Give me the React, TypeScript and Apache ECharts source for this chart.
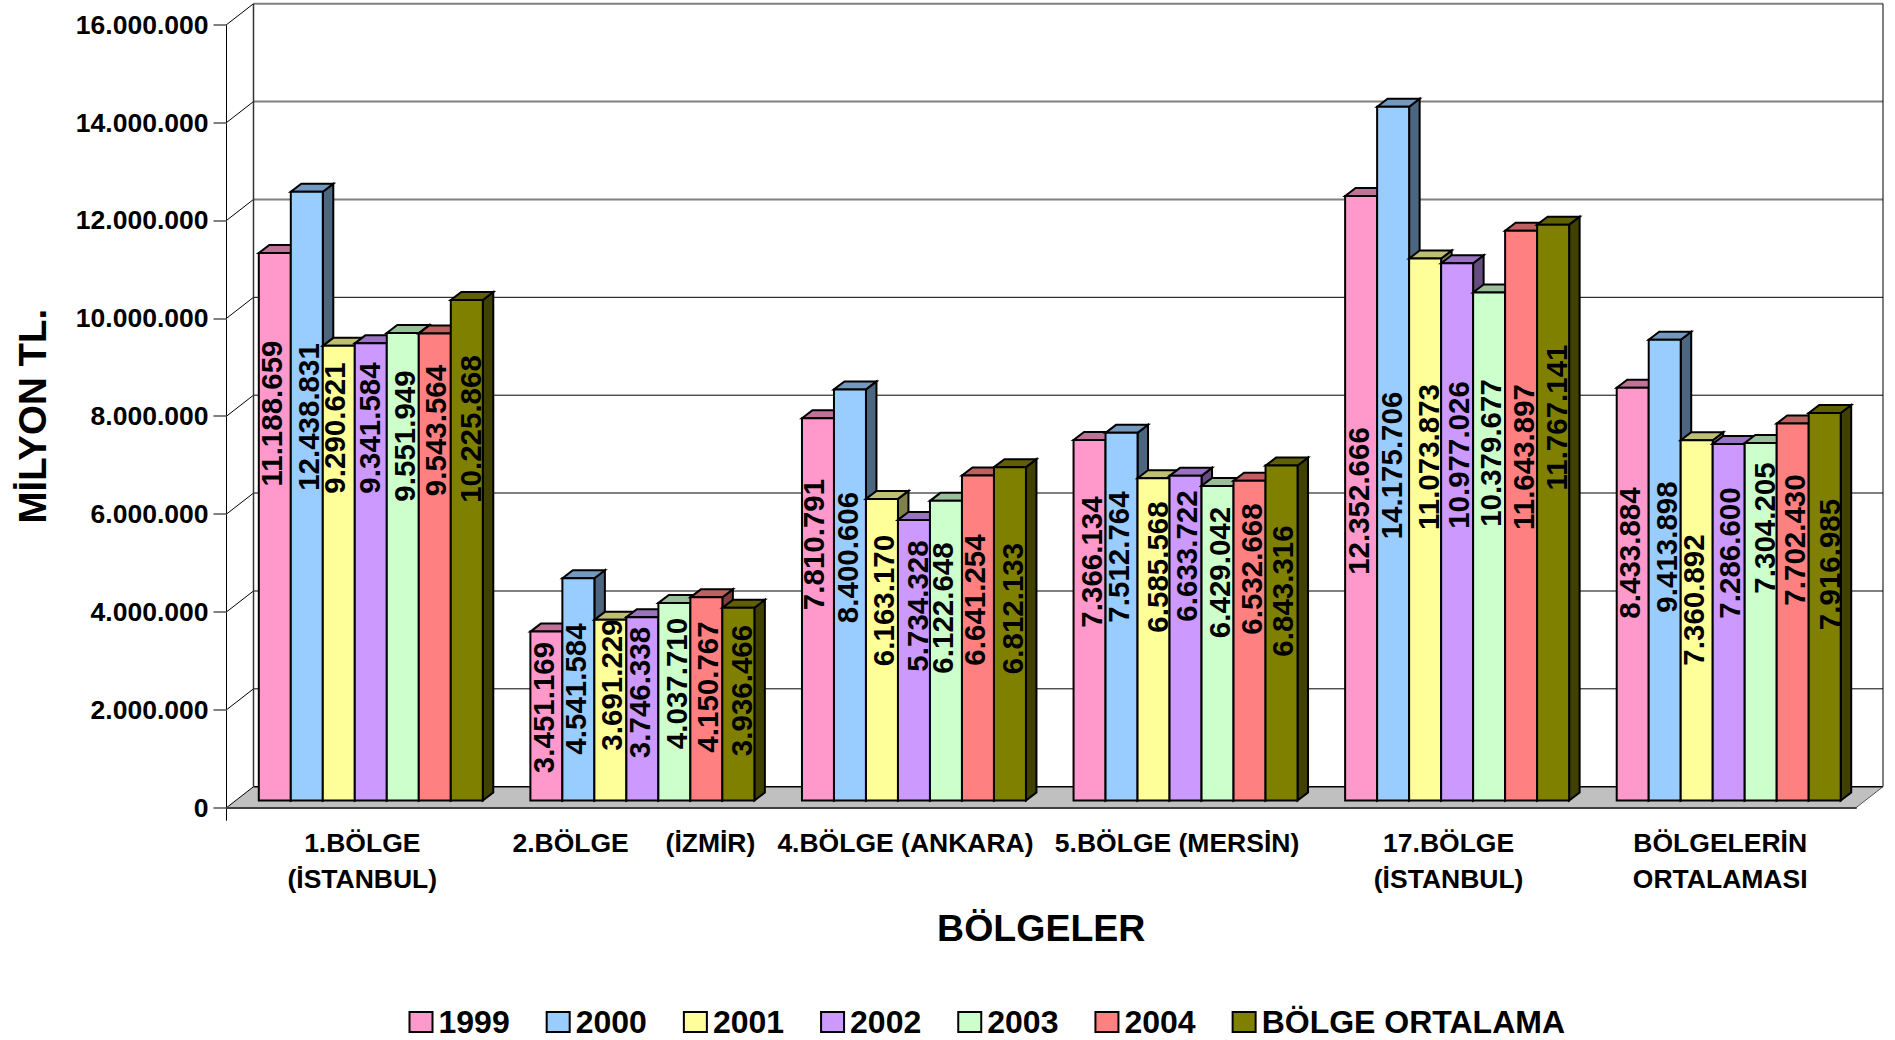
import React, { useEffect, useRef } from "react";
import * as echarts from "echarts";

const categories = [
  "1.BÖLGE\n(İSTANBUL)",
  "2.BÖLGE     (İZMİR)",
  "4.BÖLGE (ANKARA)",
  "5.BÖLGE (MERSİN)",
  "17.BÖLGE\n(İSTANBUL)",
  "BÖLGELERİN\nORTALAMASI",
];
const seriesNames = ["1999", "2000", "2001", "2002", "2003", "2004", "BÖLGE ORTALAMA"];

const v1999 = [11188659, 3451169, 7810791, 7366134, 12352666, 8433884];
const v2000 = [12438831, 4541584, 8400606, 7512764, 14175706, 9413898];
const v2001 = [9290621, 3691229, 6163170, 6585568, 11073873, 7360892];
const v2002 = [9341584, 3746338, 5734328, 6633722, 10977026, 7286600];
const v2003 = [9551949, 4037710, 6122648, 6429042, 10379677, 7304205];
const v2004 = [9543564, 4150767, 6641254, 6532668, 11643897, 7702430];
const vOrtalama = [10225868, 3936466, 6812133, 6843316, 11767141, 7916985];
const allValues = [v1999, v2000, v2001, v2002, v2003, v2004, vOrtalama];

const axisTicks = [0, 2000000, 4000000, 6000000, 8000000, 10000000, 12000000, 14000000, 16000000];

// Hand-placed data label centres (the reference's labels were moved by hand)
const labelX = [
  [271, 543.5, 813.5, 1091, 1358.5, 1629],
  [308.5, 575, 847, 1118, 1391, 1666],
  [334, 611, 883.5, 1157, 1428.5, 1693.5],
  [369, 639, 917, 1186.5, 1458, 1729.5],
  [404, 676, 942.5, 1219, 1490, 1764],
  [435, 707.5, 974, 1251, 1523.5, 1794],
  [470, 741.5, 1012.5, 1282.5, 1556, 1829],
];
const labelY = [
  [413.5, 707.5, 544.5, 562, 501, 553],
  [417, 689, 557.5, 557, 465.5, 547],
  [428, 685, 600.5, 567, 457, 600],
  [428, 692.5, 606, 556, 455, 553],
  [436, 683.5, 608, 572.5, 453, 528],
  [430.5, 687, 600, 569, 457, 540],
  [429, 690.5, 608.5, 591, 417.5, 564.5],
];

const frontColors = ["#FF99CC", "#99CCFF", "#FFFF99", "#CC99FF", "#CCFFCC", "#FF8080", "#808000"];
const topColors = ["#BF7399", "#7399BF", "#BFBF73", "#9973BF", "#99BF99", "#BF6060", "#606000"];
const sideColors = ["#804D66", "#4D6680", "#80804D", "#664D80", "#668066", "#804040", "#404000"];

const FONT = '"Liberation Sans", Arial, sans-serif';
const WALL_DX = 27;
const WALL_DY = 21;
const BAR_OFFSET_X = 8.5;
const BAR_OFFSET_Y = 7.2;
const BAR_DX = 10.5;
const BAR_DY = 8;
const BAR_RATIO = 32 / 271.6;

const dotted = (v: number) => String(v).replace(/\B(?=(\d{3})+(?!\d))/g, ".");

// thin black or wide grey, as the reference's resampling left them
const gridStyle = (tick: number) =>
  [2000000, 8000000, 10000000].includes(tick)
    ? { stroke: "#000", lineWidth: 1 }
    : { stroke: "#808080", lineWidth: 2 };

const renderFrame = (params: any, api: any) => {
  const cs = params.coordSys;
  const left = cs.x;
  const right = cs.x + cs.width;
  const y0 = api.coord([0, 0])[1];
  const yTop = api.coord([0, axisTicks[axisTicks.length - 1]])[1];
  const children: any[] = [
    {
      type: "polygon",
      shape: {
        points: [
          [left, y0],
          [right, y0],
          [right + WALL_DX, y0 - WALL_DY],
          [left + WALL_DX, y0 - WALL_DY],
        ],
      },
      style: { fill: "#C0C0C0", stroke: "none" },
    },
  ];
  const line = (x1: number, y1: number, x2: number, y2: number, style: any) => ({
    type: "line",
    shape: { x1, y1, x2, y2 },
    style,
  });
  for (const t of axisTicks) {
    const y = api.coord([0, t])[1];
    children.push(line(left, y, left + WALL_DX, y - WALL_DY, { stroke: "#000", lineWidth: 1 }));
    if (t === 0) {
      children.push(line(left + WALL_DX, y - WALL_DY, right + WALL_DX, y - WALL_DY, { stroke: "#000", lineWidth: 1.5 }));
    } else {
      children.push(line(left + WALL_DX, y - WALL_DY, right + WALL_DX, y - WALL_DY, gridStyle(t)));
    }
  }
  children.push(line(left + WALL_DX, yTop - WALL_DY, left + WALL_DX, y0 - WALL_DY, { stroke: "#333", lineWidth: 1.5 }));
  children.push(line(right + WALL_DX, yTop - WALL_DY, right + WALL_DX, y0 - WALL_DY, { stroke: "#000", lineWidth: 1 }));
  children.push(line(right, y0, right + WALL_DX, y0 - WALL_DY, { stroke: "#555", lineWidth: 1 }));
  children.push(line(left, y0, left, y0 + 13, { stroke: "#000", lineWidth: 1 }));
  return { type: "group", children };
};

const makeBarRenderer = (s: number) => (params: any, api: any) => {
  const g = api.value(0);
  const v = api.value(1);
  const top = api.coord([g, v]);
  const base = api.coord([g, 0]);
  const bw = api.size([1, 0])[0] * BAR_RATIO;
  const cx = top[0] + BAR_OFFSET_X + (s - 3) * bw;
  const xl = cx - bw / 2;
  const xr = cx + bw / 2;
  const yt = top[1] - BAR_OFFSET_Y;
  const yb = base[1] - BAR_OFFSET_Y;
  const stroke = { stroke: "#000", lineWidth: 2, lineJoin: "miter" };
  return {
    type: "group",
    children: [
      {
        type: "polygon",
        shape: { points: [[xr, yt], [xr + BAR_DX, yt - BAR_DY], [xr + BAR_DX, yb - BAR_DY], [xr, yb]] },
        style: { fill: sideColors[s], ...stroke },
      },
      {
        type: "polygon",
        shape: { points: [[xl, yt], [xl + BAR_DX, yt - BAR_DY], [xr + BAR_DX, yt - BAR_DY], [xr, yt]] },
        style: { fill: topColors[s], ...stroke },
      },
      {
        type: "polygon",
        shape: { points: [[xl, yt], [xr, yt], [xr, yb], [xl, yb]] },
        style: { fill: frontColors[s], ...stroke },
      },
      {
        type: "text",
        z2: 100,
        x: labelX[s][g],
        y: labelY[s][g],
        rotation: Math.PI / 2,
        style: {
          text: dotted(v),
          fill: "#000",
          font: `bold 29.5px ${FONT}`,
          align: "center",
          verticalAlign: "middle",
        },
      },
    ],
  };
};

export default function App() {
  const ref = useRef<HTMLDivElement>(null);
  useEffect(() => {
    document.body.style.margin = "0";
    document.body.style.overflow = "hidden";
    const chart = echarts.init(ref.current!, undefined, { renderer: "svg" });
    chart.setOption({
      animation: false,
      backgroundColor: "#fff",
      grid: { left: 226.5, top: 24.7, width: 1629.5, height: 783 },
      legend: {
        left: 403.5,
        top: 1001,
        icon: "rect",
        itemWidth: 23,
        itemHeight: 20,
        itemGap: 36,
        data: seriesNames,
        itemStyle: { borderColor: "#000", borderWidth: 2 },
        textStyle: { color: "#000", fontFamily: FONT, fontWeight: "bold", fontSize: 32, padding: [0, 0, 0, 1] },
      },
      xAxis: {
        type: "category",
        data: categories,
        z: 3,
        name: "BÖLGELER",
        nameLocation: "middle",
        nameGap: 101,
        nameTextStyle: { color: "#000", fontFamily: FONT, fontWeight: "bold", fontSize: 37.5 },
        axisLine: { lineStyle: { color: "#404040", width: 2 } },
        axisTick: { length: 13, alignWithLabel: false, lineStyle: { color: "#666", width: 1 } },
        axisLabel: {
          interval: 0,
          hideOverlap: false,
          margin: 17,
          color: "#000",
          fontFamily: FONT,
          fontWeight: "bold",
          fontSize: 26.5,
          lineHeight: 36,
        },
      },
      yAxis: {
        type: "value",
        min: 0,
        max: 16000000,
        interval: 2000000,
        name: "MİLYON TL.",
        nameLocation: "middle",
        nameGap: 175,
        nameRotate: 90,
        nameTextStyle: { color: "#000", fontFamily: FONT, fontWeight: "bold", fontSize: 38.5 },
        splitLine: { show: false },
        axisLine: { show: true, lineStyle: { color: "#000", width: 1 } },
        axisTick: { show: true, length: 13, lineStyle: { color: "#808080", width: 2 } },
        axisLabel: {
          margin: 18,
          color: "#000",
          fontFamily: FONT,
          fontWeight: "bold",
          fontSize: 26.5,
          formatter: (v: number) => dotted(v),
        },
      },
      series: [
        {
          type: "custom",
          name: "frame",
          silent: true,
          coordinateSystem: "cartesian2d",
          data: [[0, 0]],
          encode: { x: 0, y: 1 },
          renderItem: renderFrame,
        },
        ...seriesNames.map((name, s) => ({
          type: "custom",
          name,
          coordinateSystem: "cartesian2d",
          itemStyle: { color: frontColors[s] },
          encode: { x: 0, y: 1 },
          data: allValues[s].map((v, g) => [g, v]),
          renderItem: makeBarRenderer(s),
        })),
      ],
    });
    return () => chart.dispose();
  }, []);
  return <div ref={ref} style={{ width: 1895, height: 1040, position: "absolute", left: 0, top: 0 }} />;
}
